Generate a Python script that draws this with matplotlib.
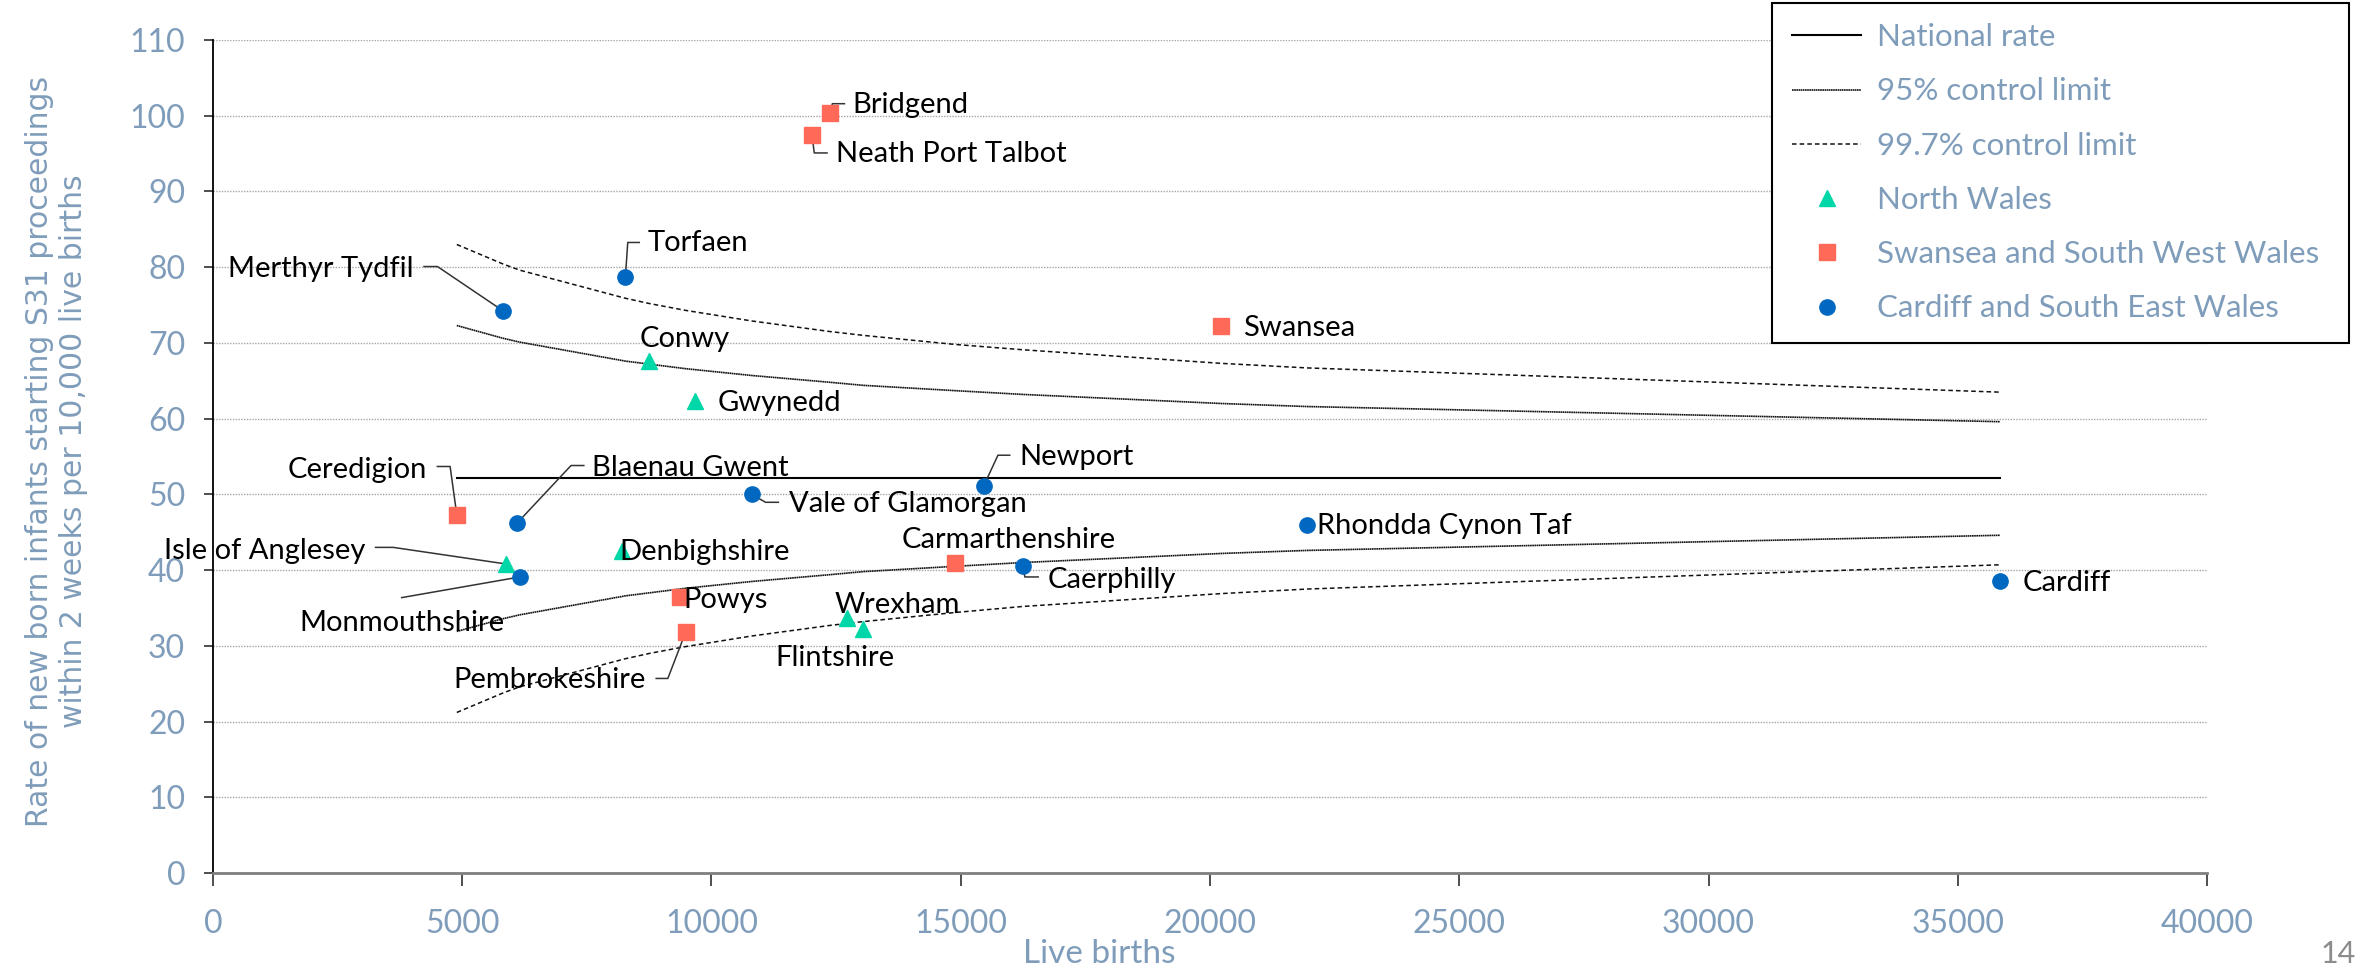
import matplotlib.pyplot as plt
from matplotlib.lines import Line2D

plt.rcParams['font.family'] = ['Lato', 'DejaVu Sans']

# local authorities: live births and rate per 10,000 live births
names = ['Bridgend', 'Neath Port Talbot', 'Torfaen', 'Merthyr Tydfil', 'Conwy',
         'Gwynedd', 'Swansea', 'Newport', 'Vale of Glamorgan', 'Ceredigion',
         'Blaenau Gwent', 'Isle of Anglesey', 'Monmouthshire', 'Denbighshire',
         'Powys', 'Pembrokeshire', 'Wrexham', 'Flintshire', 'Carmarthenshire',
         'Caerphilly', 'Rhondda Cynon Taf', 'Cardiff']
births = [12380, 12017, 8273, 5827, 8756,
          9662, 20230, 15459, 10809, 4891,
          6099, 5888, 6159, 8213,
          9360, 9481, 12712, 13043, 14885,
          16244, 21951, 35842]
rates = [100.4, 97.4, 78.7, 74.2, 67.6,
         62.3, 72.3, 51.1, 50.0, 47.3,
         46.2, 40.8, 39.1, 42.5,
         36.4, 31.8, 33.7, 32.2, 40.9,
         40.6, 46.0, 38.5]
regions = ['SW', 'SW', 'SE', 'SE', 'N',
           'N', 'SW', 'SE', 'SE', 'SW',
           'SE', 'N', 'SE', 'N',
           'SW', 'SW', 'N', 'N', 'SW',
           'SE', 'SE', 'SE']

# funnel lines
national_births = [4891, 35842]
national_rate = [52.1, 52.1]
limit_births = [4891, 5827, 6159, 8273, 8756, 9481, 10809, 12380, 13043,
                14885, 16244, 20230, 21951, 35842]
upper95 = [72.3, 70.6, 70.1, 67.6, 67.2, 66.6, 65.7, 64.8, 64.4,
           63.7, 63.2, 62.0, 61.6, 59.6]
lower95 = [31.9, 33.6, 34.1, 36.6, 37.0, 37.6, 38.5, 39.4, 39.8,
           40.5, 41.0, 42.2, 42.6, 44.6]
upper997 = [83.0, 80.4, 79.6, 75.9, 75.2, 74.3, 72.9, 71.5, 71.0,
            69.8, 69.1, 67.3, 66.7, 63.5]
lower997 = [21.2, 23.8, 24.6, 28.3, 29.0, 29.9, 31.3, 32.7, 33.2,
            34.4, 35.2, 36.9, 37.5, 40.7]

region_style = {
    'N': ('North Wales', '^', '#00D7A8'),
    'SW': ('Swansea and South West Wales', 's', '#FF6A58'),
    'SE': ('Cardiff and South East Wales', 'o', '#0068C0'),
}

# label text offset (points), alignment, leader line vertices (points)
labels = {
    'Bridgend': (16.3, 5.4, 'left', [(0, 0), (1.6, 6.5), (10.3, 6.5)]),
    'Neath Port Talbot': (17.3, -13.6, 'left', [(0, 0), (1.6, -12.6), (10.8, -12.6)]),
    'Torfaen': (16.3, 24.4, 'left', [(0, 0), (1.7, 24.9), (10, 24.9)]),
    'Merthyr Tydfil': (-64.8, 30.4, 'right', [(0, 0), (-47.5, 32.1), (-57.2, 32.1)]),
    'Conwy': (25.7, 15.6, 'center', None),
    'Gwynedd': (16.5, -1.1, 'left', None),
    'Swansea': (15.8, -1.7, 'left', None),
    'Newport': (26, 21, 'left', [(0, 0), (10.3, 22.2), (18.8, 22.2)]),
    'Vale of Glamorgan': (26.5, -6.7, 'left', [(0, 0), (9.9, -5.7), (19.1, -5.7)]),
    'Ceredigion': (-21.4, 32.4, 'right', [(0, 0), (-4.8, 34.8), (-14, 34.8)]),
    'Blaenau Gwent': (54.3, 39.9, 'left', [(0, 0), (38.9, 41.5), (48.1, 41.5)]),
    'Isle of Anglesey': (-101.7, 9.1, 'right', [(0, 0), (-81.5, 12), (-94.3, 12)]),
    'Monmouthshire': (-85.2, -33.3, 'center', [(0, 0), (-85.2, -14.9)]),
    'Denbighshire': (-2.5, -0.4, 'left', None),
    'Powys': (3, -1.7, 'left', None),
    'Pembrokeshire': (-28.6, -34.5, 'right', [(0, 0), (-12.8, -33.3), (-21.2, -33.3)]),
    'Wrexham': (-9.1, 8.9, 'left', None),
    'Flintshire': (-20.6, -20.9, 'center', None),
    'Carmarthenshire': (39, 17, 'center', None),
    'Caerphilly': (17.7, -10.6, 'left', [(0, 0), (1.5, -8.2), (11.1, -8.2)]),
    'Rhondda Cynon Taf': (6.7, -1.2, 'left', None),
    'Cardiff': (16.6, -1, 'left', None),
}

axis_color = '#7F9DBA'
line_col = '#111111'
dot95 = (0, (1, 0.3))
dash997 = (0, (3, 2))

fig = plt.figure(figsize=(23.61, 9.67), dpi=100)
ax = fig.add_axes([0.0902, 0.0972, 0.8446, 0.8614])
ax.set_xlim(0, 40000)
ax.set_ylim(0, 110)
ax.set_xticks(range(0, 40001, 5000))
ax.set_yticks(range(0, 111, 10))
ax.grid(axis='y', color='#A6A6A6', linestyle=(0, (1, 1)), linewidth=1)
ax.set_axisbelow(True)
for s in ['top', 'right']:
    ax.spines[s].set_visible(False)
ax.spines['left'].set_color('black')
ax.spines['left'].set_linewidth(1.3)
ax.spines['bottom'].set_color('#7F7F7F')
ax.spines['bottom'].set_linewidth(2)
ax.tick_params(axis='y', length=6.5, width=1.3, color='#404040', pad=13.5,
               labelsize=23, labelcolor=axis_color)
ax.tick_params(axis='x', length=9, width=1.3, color='#404040', pad=17,
               labelsize=23, labelcolor=axis_color)

ax.plot(national_births, national_rate, color='black', lw=1.5)
ax.plot(limit_births, upper95, color=line_col, lw=1.2, linestyle=dot95)
ax.plot(limit_births, lower95, color=line_col, lw=1.2, linestyle=dot95)
ax.plot(limit_births, upper997, color=line_col, lw=1.1, linestyle=dash997)
ax.plot(limit_births, lower997, color=line_col, lw=1.1, linestyle=dash997)

for key, (lab, mk, col) in region_style.items():
    xs = [b for b, r in zip(births, regions) if r == key]
    ys = [v for v, r in zip(rates, regions) if r == key]
    ax.plot(xs, ys, linestyle='none', marker=mk, color=col, ms=11, zorder=3)


def draw_leader(x, y, pts):
    x0, y0 = ax.transData.transform((x, y))
    k = fig.dpi / 72.0
    disp = [(x0 + dx * k, y0 + dy * k) for dx, dy in pts]
    dat = ax.transData.inverted().transform(disp)
    ax.plot(dat[:, 0], dat[:, 1], color='#333333', lw=1.1, zorder=2)


for name, b, r in zip(names, births, rates):
    dx, dy, ha, pts = labels[name]
    ax.annotate(name, (b, r), xytext=(dx, dy), textcoords='offset points',
                ha=ha, va='center', fontsize=21, color='black', zorder=4)
    if pts:
        draw_leader(b, r, pts)

fig.text(0.024, 0.533,
         'Rate of new born infants starting S31 proceedings\nwithin 2 weeks per 10,000 live births',
         rotation=90, ha='center', va='center', ma='center', fontsize=21.5,
         color=axis_color, family='DejaVu Sans', linespacing=1.2)
fig.text(0.4655, 0.013, 'Live births', ha='center', va='center', fontsize=24,
         color=axis_color)
fig.text(0.998, 0.013, '14', ha='right', va='center', fontsize=22, color='#8C8C8C')

handles = [
    Line2D([], [], color='black', lw=1.5),
    Line2D([], [], color=line_col, lw=1.2, linestyle=dot95),
    Line2D([], [], color=line_col, lw=1.1, linestyle=dash997),
]
leg_labels = ['National rate', '95% control limit', '99.7% control limit']
for key, (lab, mk, col) in region_style.items():
    handles.append(Line2D([], [], linestyle='none', marker=mk, color=col, ms=11))
    leg_labels.append(lab)

leg = ax.legend(handles, leg_labels, loc='upper left', mode='expand',
                bbox_to_anchor=(0.7505, 0.658, 0.2444, 0.339),
                bbox_transform=fig.transFigure, fontsize=22.5, labelcolor=axis_color,
                frameon=True, fancybox=False, framealpha=1, edgecolor='black',
                borderpad=0.65, labelspacing=0.84, handlelength=2.2,
                handletextpad=0.5, borderaxespad=0)
leg.get_frame().set_linewidth(1.5)

fig.savefig('out.png', dpi=100)
